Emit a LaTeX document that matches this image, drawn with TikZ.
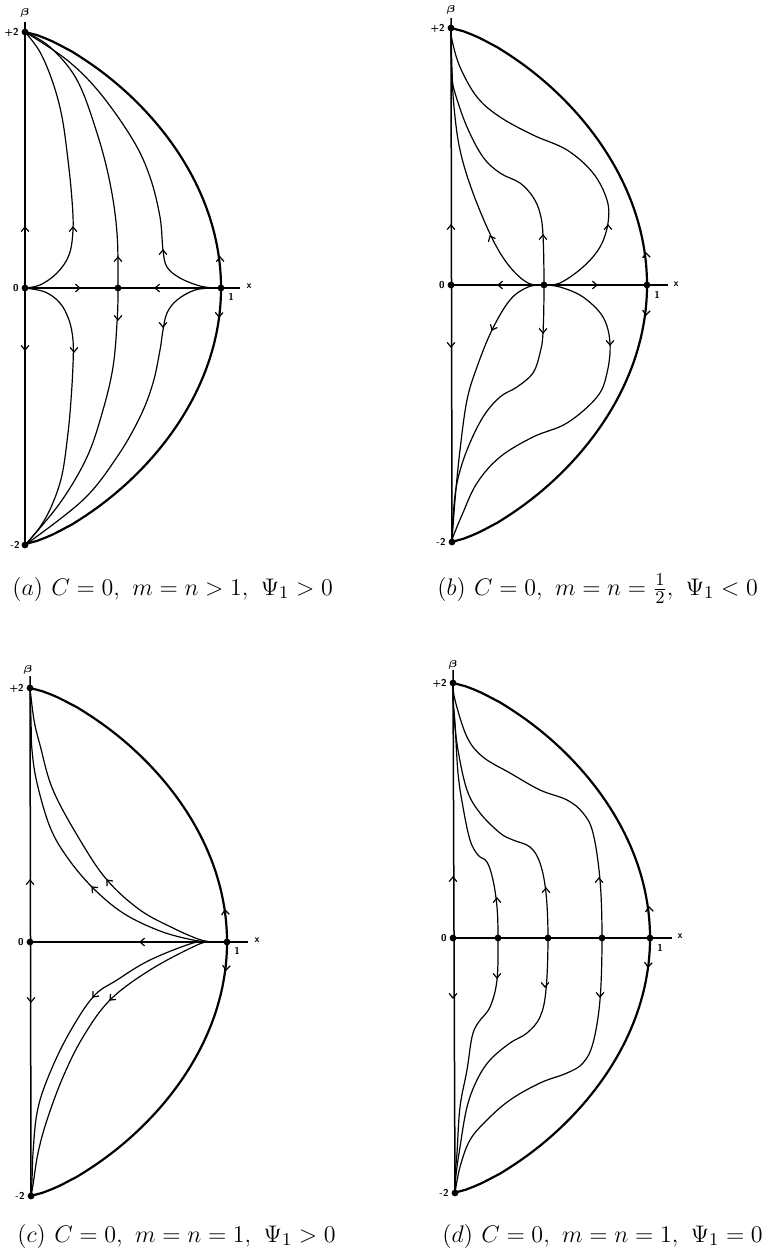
\documentclass[tikz,border=0pt]{standalone}
\usepackage{amsmath}
\newcommand\drawbound[4]{%
  \draw[bnd] plot[domain=2:-2, samples=161, variable=\t]
    ({#1+#3*(max(1-\t*\t/4,0.00001))^0.75}, {#2-#4*\t});}
\newcommand\chev[3]{\draw[arr] (#1,#2) ++({180-(#3)-40}:6) -- (#1,#2) -- ++({180-(#3)+40}:6);}
\begin{document}
\begin{tikzpicture}[x=0.5pt,y=-0.5pt,
  bnd/.style={line width=1.1pt},
  axl/.style={line width=0.75pt},
  traj/.style={line width=0.6pt},
  arr/.style={line width=0.6pt},
  dot/.style={circle,fill,inner sep=0pt,minimum size=3.4pt},
  lab/.style={font=\fontsize{5}{6}\selectfont\sffamily\bfseries,inner sep=0pt},
  captxt/.style={font=\fontsize{13}{15}\selectfont,inner sep=0pt,anchor=base west}]
\useasboundingbox (0,0) rectangle (779,1255);

% ================= Panel (a) =================
\coordinate (aT) at (25,32);
\coordinate (aO) at (25,288);
\coordinate (aB) at (25,545);
\coordinate (aM) at (118,288);
\coordinate (aX) at (221,288);
\coordinate (aN) at (25,22);
\coordinate (aE) at (240,288);
\draw[axl] (aN) -- (aB);
\draw[axl] (aO) -- (aE);
\draw[traj] plot[smooth,tension=0.6] coordinates {(aT) (40,52) (53,83) (62,117) (68,160) (72,200) (73,230) (69,255) (57,273) (40,285) (aO)};
\draw[traj] plot[smooth,tension=0.6] coordinates {(aO) (45,292) (60,303) (69,320) (73,340) (73,365) (71,400) (68,433) (62,475) (52,505) (40,527) (aB)};
\draw[traj] plot[smooth,tension=0.6] coordinates {(aT) (50,47) (77,80) (97,133) (110,183) (117,233) (aM) (117,323) (113,367) (103,410) (87,457) (60,503) (aB)};
\draw[traj] plot[smooth,tension=0.6] coordinates {(aT) (67,60) (100,93) (133,140) (150,177) (160,217) (163,250) (167,267) (180,278) (200,286) (215,288)};
\draw[traj] plot[smooth,tension=0.6] coordinates {(215,288) (195,290) (177,300) (167,313) (163,330) (160,350) (153,383) (140,417) (117,457) (83,500) (aB)};
\drawbound{25}{288}{196}{128}
\chev{25}{227}{90} \chev{25}{350}{-90}
\chev{80}{288}{0} \chev{155}{288}{180}
\chev{73}{227}{90} \chev{74}{352}{-90}
\chev{118}{257}{90} \chev{118}{320}{-90}
\chev{163}{250}{90} \chev{163}{327}{-90}
\chev{220}{257}{92} \chev{219}{317}{-92}
\foreach \p in {aT,aO,aB,aM,aX} \node[dot] (d\p) at (\p) {};
\node[lab] (aLb) at (25,13) {$\boldsymbol\beta$};
\node[lab,anchor=east] (aL2) at (19,32) {+2};
\node[lab,anchor=east] (aL0) at (19,288) {0};
\node[lab,anchor=east] (aLm) at (20,545) {-2};
\node[lab] (aLx) at (249,286) {x};
\node[lab] (aL1) at (231,297) {1};

% ================= Panel (b) =================
\coordinate (bT) at (451,28);
\coordinate (bO) at (451,285);
\coordinate (bB) at (452,542);
\coordinate (bM) at (544,285);
\coordinate (bX) at (647,285);
\coordinate (bN) at (451,18);
\coordinate (bE) at (668,285);
\draw[axl] (bN) -- (bB);
\draw[axl] (bO) -- (bE);
\draw[traj] plot[smooth,tension=0.6] coordinates {(bT) (451,50) (452,77) (455,93) (467,127) (483,157) (500,173) (520,183) (533,197) (540,213) (543,235) (bM) (543,333) (540,353) (533,373) (517,387) (500,397) (483,417) (467,450) (457,483) (453,517) (bB)};
\draw[traj] plot[smooth,tension=0.6] coordinates {(bM) (528,283) (510,267) (493,240) (473,193) (460,150) (454,107) (452,70) (bT)};
\draw[traj] plot[smooth,tension=0.6] coordinates {(bM) (528,287) (510,300) (492,330) (477,367) (467,400) (460,450) (455,500) (bB)};
\draw[traj] plot[smooth,tension=0.6] coordinates {(bM) (560,283) (583,267) (600,247) (608,223) (607,200) (593,173) (567,150) (533,135) (500,117) (477,97) (460,67) (452,40) (bT)};
\draw[traj] plot[smooth,tension=0.6] coordinates {(bM) (560,287) (583,297) (603,317) (610,343) (607,373) (597,397) (567,423) (533,437) (500,457) (477,483) (462,515) (453,537) (bB)};
\drawbound{451}{285}{196}{128.5}
\chev{451}{225}{90} \chev{451}{347}{-90}
\chev{498}{285}{180} \chev{597}{285}{0}
\chev{543}{235}{90} \chev{543}{333}{-90}
\chev{490}{236}{115} \chev{492}{330}{-115}
\chev{608}{225}{90} \chev{610}{345}{-90}
\chev{646}{253}{95} \chev{646}{315}{-95}
\foreach \p in {bT,bO,bB,bM,bX} \node[dot] (d\p) at (\p) {};
\node[lab] (bLb) at (451,10) {$\boldsymbol\beta$};
\node[lab,anchor=east] (bL2) at (445,28) {+2};
\node[lab,anchor=east] (bL0) at (445,285) {0};
\node[lab,anchor=east] (bLm) at (446,542) {-2};
\node[lab] (bLx) at (676,284) {x};
\node[lab] (bL1) at (657,295) {1};

% ================= Panel (c) =================
\coordinate (cT) at (30,688);
\coordinate (cO) at (30,942);
\coordinate (cB) at (31,1196);
\coordinate (cX) at (227,942);
\coordinate (cN) at (30,676);
\coordinate (cE) at (248,942);
\coordinate (cC) at (211,942);
\draw[axl] (cN) -- (cB);
\draw[axl] (cO) -- (cE);
\draw[traj] plot[smooth,tension=0.6] coordinates {(cT) (34,720) (40,745) (53,790) (80,840) (107,880) (140,910) (173,928) (198,939) (cC)};
\draw[traj] plot[smooth,tension=0.6] coordinates {(cT) (31,720) (32,750) (37,783) (50,827) (67,857) (92,887) (123,913) (160,931) (193,940) (cC)};
\draw[traj] plot[smooth,tension=0.6] coordinates {(cC) (193,943) (150,960) (117,980) (93,997) (67,1037) (47,1080) (37,1113) (33,1153) (32,1180) (cB)};
\draw[traj] plot[smooth,tension=0.6] coordinates {(cC) (197,945) (150,970) (110,1000) (83,1037) (63,1077) (47,1120) (38,1153) (33,1185) (cB)};
\drawbound{30}{942}{197}{127}
\chev{30}{880}{90} \chev{31}{1002}{-90}
\chev{140}{942}{180}
\chev{107}{880}{130} \chev{92}{887}{135}
\chev{93}{997}{-131} \chev{110}{1000}{-135}
\chev{225}{910}{95} \chev{226}{970}{-95}
\foreach \p in {cT,cO,cB,cX} \node[dot] (d\p) at (\p) {};
\node[lab] (cLb) at (28,670) {$\boldsymbol\beta$};
\node[lab,anchor=east] (cL2) at (24,688) {+2};
\node[lab,anchor=east] (cL0) at (24,942) {0};
\node[lab,anchor=east] (cLm) at (25,1196) {-2};
\node[lab] (cLx) at (257,940) {x};
\node[lab] (cL1) at (237,951) {1};

% ================= Panel (d) =================
\coordinate (dT) at (453,683);
\coordinate (dO) at (453,938);
\coordinate (dB) at (455,1193);
\coordinate (dD1) at (498,938);
\coordinate (dD2) at (548,938);
\coordinate (dD3) at (602,938);
\coordinate (dX) at (650,938);
\coordinate (dN) at (453,670);
\coordinate (dE) at (672,938);
\draw[axl] (dN) -- (dB);
\draw[axl] (dO) -- (dE);
\draw[traj] plot[smooth,tension=0.6] coordinates {(dT) (453,700) (455,723) (458,773) (463,807) (470,840) (478,855) (487,862) (493,880) (497,907) (dD1) (497,980) (490,1007) (478,1023) (472,1037) (467,1070) (460,1107) (457,1153) (455,1175) (dB)};
\draw[traj] plot[smooth,tension=0.6] coordinates {(dT) (454,715) (458,750) (467,790) (480,813) (500,833) (513,840) (530,847) (540,863) (546,893) (dD2) (546,990) (540,1017) (527,1033) (510,1043) (490,1060) (477,1080) (467,1107) (460,1147) (456,1175) (dB)};
\draw[traj] plot[smooth,tension=0.6] coordinates {(dT) (455,700) (467,737) (483,757) (510,773) (540,790) (567,800) (583,813) (593,833) (600,880) (dD3) (600,1000) (593,1043) (583,1063) (567,1073) (540,1083) (510,1100) (487,1120) (470,1140) (460,1167) (dB)};
\drawbound{453}{938}{197}{127.5}
\chev{453}{877}{90} \chev{453}{998}{-90}
\chev{497}{898}{90} \chev{497}{978}{-90}
\chev{546}{888}{90} \chev{545}{987}{-90}
\chev{599}{878}{90} \chev{600}{997}{-90}
\chev{649}{907}{95} \chev{648}{967}{-95}
\foreach \p in {dT,dO,dB,dD1,dD2,dD3,dX} \node[dot] (d\p) at (\p) {};
\node[lab] (dLb) at (453,665) {$\boldsymbol\beta$};
\node[lab,anchor=east] (dL2) at (447,683) {+2};
\node[lab,anchor=east] (dL0) at (447,938) {0};
\node[lab,anchor=east] (dLm) at (449,1193) {-2};
\node[lab] (dLx) at (680,936) {x};
\node[lab] (dL1) at (660,948) {1};

% ================= Captions =================
\node[captxt] (capa) at (12,595) {$(a)\ C=0,\ m=n>1,\ \Psi_1>0$};
\node[captxt] (capb) at (437,595) {$(b)\ C=0,\ m=n=\tfrac{1}{2},\ \Psi_1<0$};
\node[captxt] (capc) at (17,1242) {$(c)\ C=0,\ m=n=1,\ \Psi_1>0$};
\node[captxt] (capd) at (442,1242) {$(d)\ C=0,\ m=n=1,\ \Psi_1=0$};
\end{tikzpicture}
\end{document}
